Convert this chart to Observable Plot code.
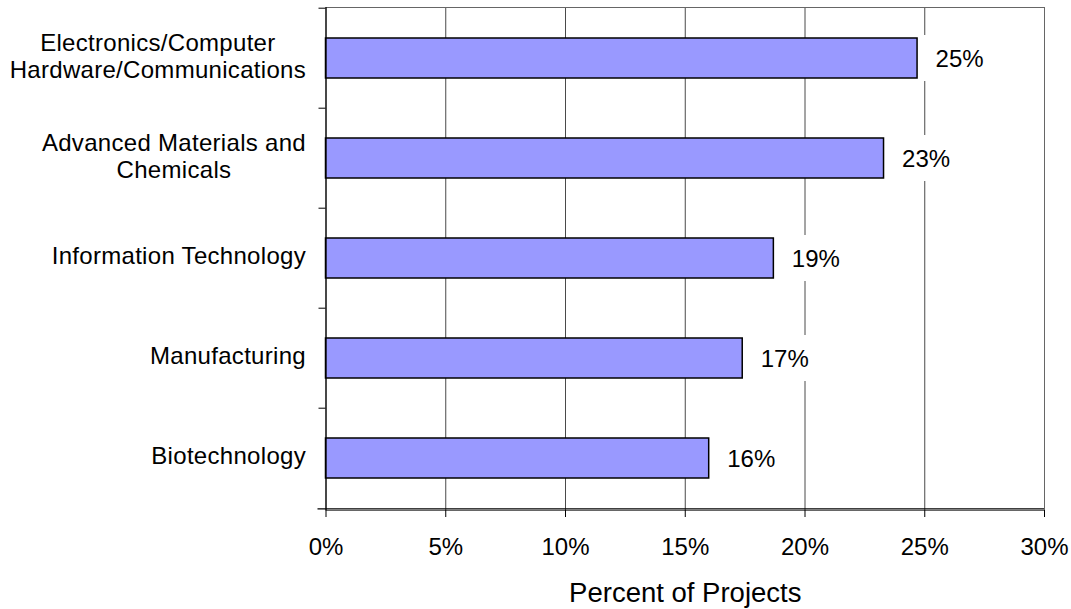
<!DOCTYPE html>
<html>
<head>
<meta charset="utf-8">
<script src="https://cdn.jsdelivr.net/npm/d3@7"></script>
<script src="https://cdn.jsdelivr.net/npm/@observablehq/plot@0.6"></script>
<style>
  html, body { margin: 0; padding: 0; background: #fff; }
  #chart svg { display: block; }
</style>
</head>
<body>
<div id="chart"></div>
<script>
const categories = [
  "Electronics/Computer\nHardware/Communications",
  "Advanced Materials and\nChemicals",
  "Information Technology",
  "Manufacturing",
  "Biotechnology"
];
const values = [0.247, 0.233, 0.187, 0.174, 0.160];
const xTicks = [0, 0.05, 0.10, 0.15, 0.20, 0.25, 0.30];
const xLabel = "Percent of Projects";

const data = categories.map((c, i) => ({category: c, value: values[i]}));
const pct = d => Math.round(d * 100) + "%";
const font = "'Liberation Sans', Arial, sans-serif";

const step = (510 - 7) / categories.length;

const svg = Plot.plot({
  width: 1071,
  height: 609,
  marginLeft: 325.5,
  marginRight: 27,
  marginTop: 7,
  marginBottom: 99,
  style: {fontFamily: font, fontSize: "24px", color: "#000", background: "#fff"},
  x: {domain: [0, 0.30], ticks: xTicks, tickFormat: pct},
  y: {domain: categories, paddingInner: 0.6, paddingOuter: 0.3},
  marks: [
    Plot.ruleX(xTicks.slice(1, -1), {stroke: "#4a4a4a", strokeWidth: 1}),
    Plot.frame({stroke: "#666", strokeWidth: 1}),
    Plot.barX(data, {x: "value", y: "category", fill: "#9999FF", stroke: "#000", strokeWidth: 1.5}),
    Plot.barX(data, {x1: "value", x2: "value", y: "category", fill: "#fff",
      insetLeft: 4, insetRight: -64, insetTop: -3, insetBottom: -3}),
    Plot.text(data, {x: "value", y: "category", text: d => pct(d.value),
      textAnchor: "start", dx: 18, dy: 1, fontSize: 24, fill: "#000"}),
    Plot.ruleX([0], {stroke: "#000", strokeWidth: 1.2}),
    Plot.ruleY(data, {y: "category", x1: 0, x2: 0, insetLeft: -7, dy: -step / 2, stroke: "#000"}),
    Plot.ruleY(data.slice(-1), {y: "category", x1: 0, x2: 0.30, insetLeft: -8, dy: step / 2, stroke: "#000", strokeWidth: 1.2}),
    Plot.axisX({ticks: xTicks, tickFormat: pct, tickSize: 7, tickPadding: 20, label: null, fontSize: 24}),
    Plot.axisY({tickSize: 0, tickPadding: 20, dy: -3, label: null, fontSize: 24, lineHeight: 1.13}),
    Plot.text([xLabel], {frameAnchor: "bottom", dy: 83, fontSize: 27.5, fill: "#000", lineAnchor: "middle"})
  ]
});

document.getElementById("chart").appendChild(svg);

// Excel-like slightly wider category labels, centered when multi-line
svg.querySelectorAll('g[aria-label="y-axis tick label"] text').forEach(t => {
  t.setAttribute("letter-spacing", "0.3px");
  const spans = t.querySelectorAll("tspan");
  if (spans.length > 1) {
    let w = 0;
    spans.forEach(s => { w = Math.max(w, s.getComputedTextLength()); });
    t.setAttribute("text-anchor", "middle");
    spans.forEach(s => s.setAttribute("x", -w / 2));
  }
});
</script>
</body>
</html>
